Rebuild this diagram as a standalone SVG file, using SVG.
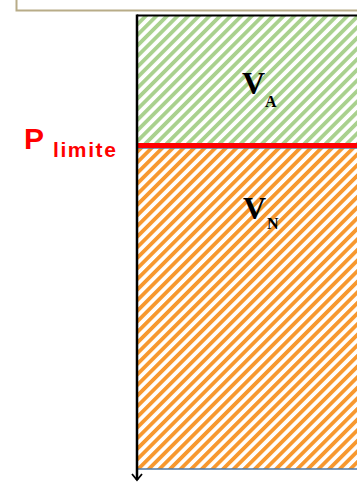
<svg xmlns="http://www.w3.org/2000/svg" width="357" height="482" viewBox="0 0 357 482">
<style>
.lbl{font-family:"Liberation Serif",serif;font-weight:bold;fill:#000}
.red{font-family:"Liberation Sans",Arial,sans-serif;font-weight:bold;fill:#FF0000}
</style>
<defs>
<pattern id="hg" width="7.5" height="7.5" patternUnits="userSpaceOnUse" patternTransform="rotate(45)">
<rect width="7.5" height="7.5" fill="#fff"/><rect width="3.8" height="7.5" fill="#A9D18E"/>
</pattern>
<pattern id="ho" width="7.5" height="7.5" patternUnits="userSpaceOnUse" patternTransform="rotate(45)">
<rect width="7.5" height="7.5" fill="#fff"/><rect width="3.8" height="7.5" fill="#F7982F"/>
</pattern>
<marker id="arr" markerWidth="10" markerHeight="12" refX="8" refY="6" orient="auto" markerUnits="userSpaceOnUse" viewBox="0 0 10 12">
<path d="M2,1 L8,6 L2,11" fill="none" stroke="#000" stroke-width="1.8"/>
</marker>
</defs>
<g id="topbox"><path d="M16.5,0 V10.5 H357" fill="none" stroke="#B8AC88" stroke-width="2"/></g>
<g id="zoneA">
<rect x="137" y="15" width="221" height="129" fill="url(#hg)"/>
<text class="lbl" x="242" y="94" font-size="32">V</text>
<text class="lbl" x="265" y="107" font-size="16">A</text>
</g>
<g id="zoneN">
<rect x="137" y="148" width="221" height="321" fill="url(#ho)" stroke="#4F7AA6" stroke-width="1.5"/>
<text class="lbl" x="243" y="219" font-size="32">V</text>
<text class="lbl" x="267" y="229" font-size="16">N</text>
</g>
<g id="plimite">
<line x1="137" y1="145.5" x2="357" y2="145.5" stroke="#FF0000" stroke-width="5"/>
<text class="red" x="24" y="149" font-size="30">P</text>
<text class="red" x="53" y="157" font-size="21" letter-spacing="1.6">limite</text>
</g>
<g id="connectors">
<line x1="137" y1="14.5" x2="137" y2="480" stroke="#000" stroke-width="2.5" marker-end="url(#arr)"/>
<line x1="137" y1="15.5" x2="357" y2="15.5" stroke="#000" stroke-width="2"/>
</g>
</svg>
